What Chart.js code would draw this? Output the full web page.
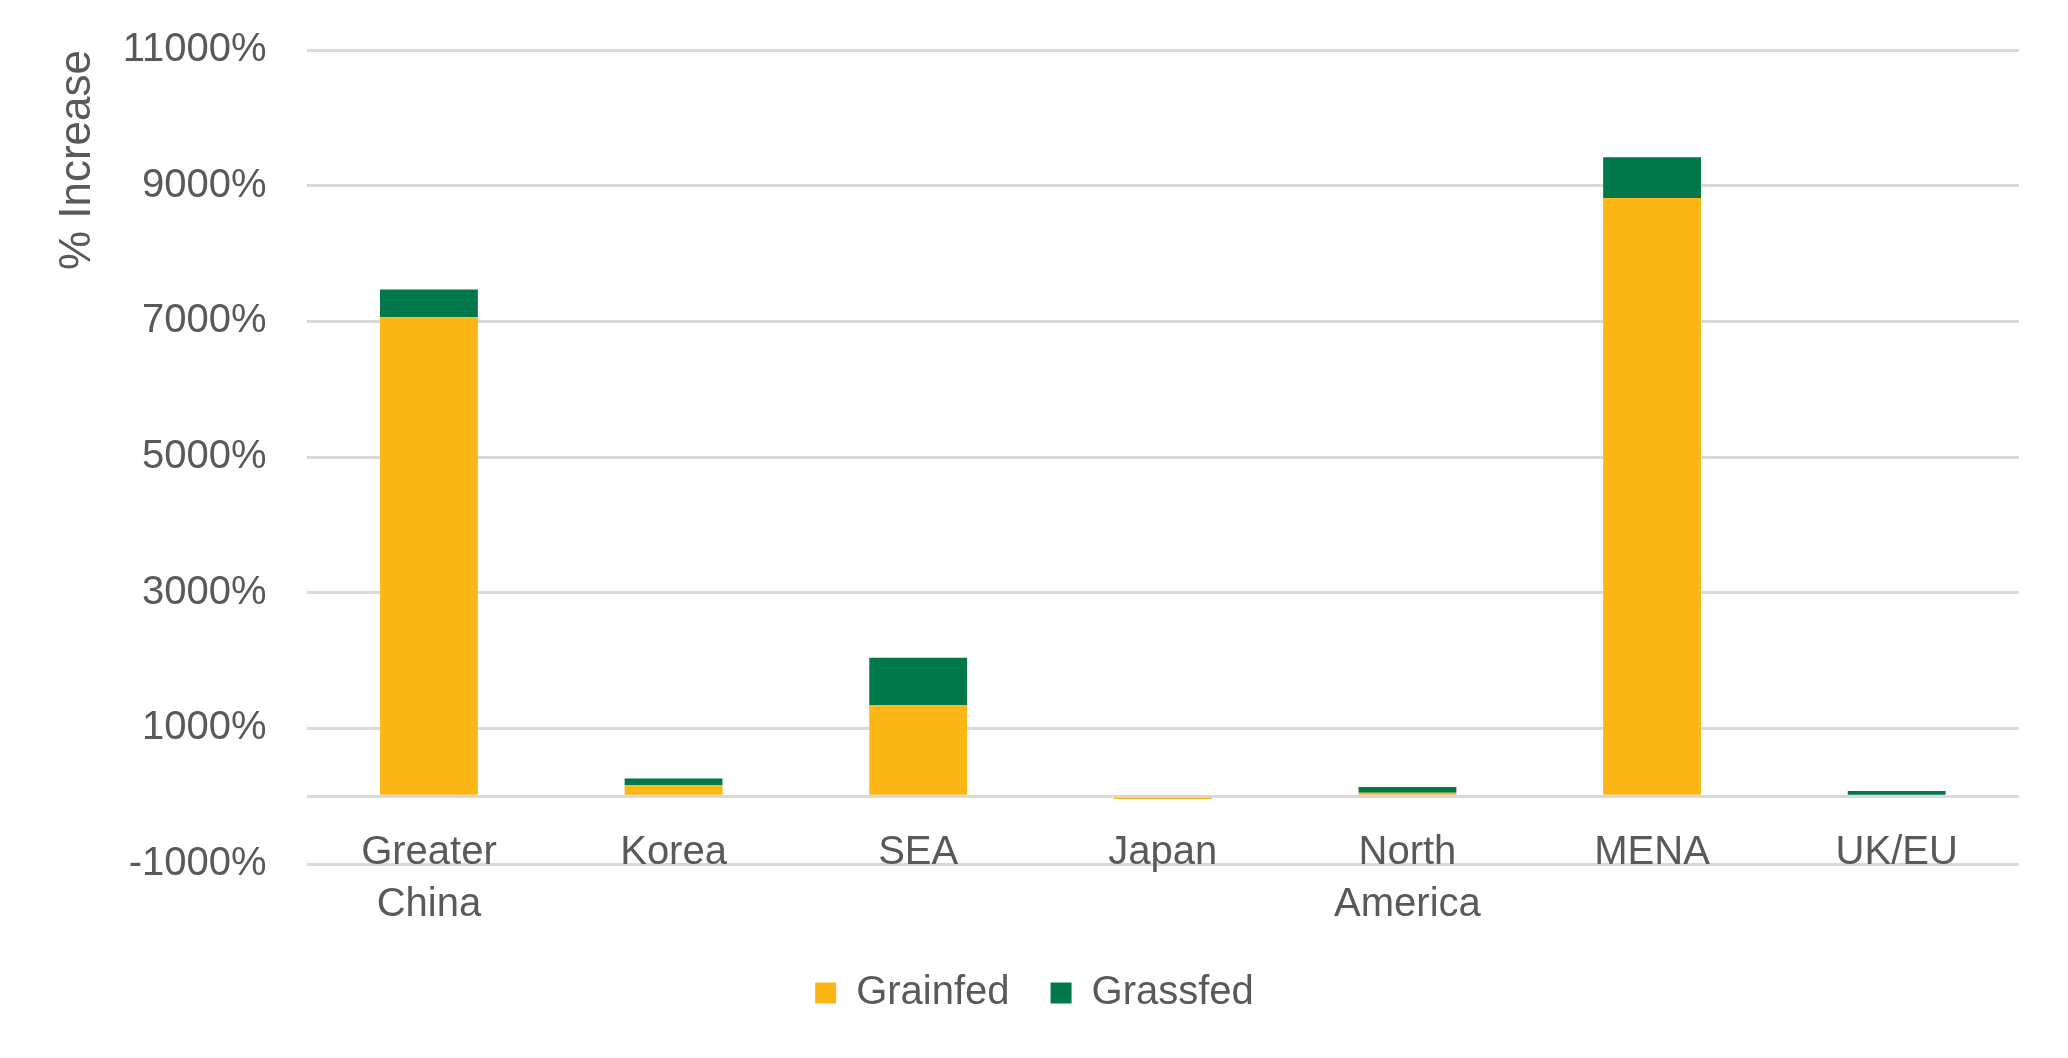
<!DOCTYPE html>
<html>
<head>
<meta charset="utf-8">
<title>% Increase by region</title>
<script src="https://cdn.jsdelivr.net/npm/chart.js@4.4.1/dist/chart.umd.min.js"></script>
<style>
  html, body { margin: 0; padding: 0; background: #ffffff; }
  #chart { display: block; }
</style>
</head>
<body>
<canvas id="chart" width="2068" height="1058"></canvas>
<script>
// data
const regions = [["Greater", "China"], "Korea", "SEA", "Japan", ["North", "America"], "MENA", "UK/EU"];
const grainfed = [7060, 160, 1340, -40, 50, 8820, 0];
const grassfed = [410, 100, 700, 0, 85, 600, 75];
const yTicks = [-1000, 0, 1000, 3000, 5000, 7000, 9000, 11000];

const textColor = "#595959";
const fontFamily = "'Liberation Sans', Arial, sans-serif";

let canvas = document.getElementById("chart");

var chart = new Chart(canvas, {
  type: "bar",
  data: {
    labels: regions,
    datasets: [
      {
        label: "Grainfed",
        data: grainfed,
        backgroundColor: "#FCB716",
        borderWidth: 0,
        barPercentage: 0.4,
        categoryPercentage: 1.0,
      },
      {
        label: "Grassfed",
        data: grassfed,
        backgroundColor: "#00784A",
        borderWidth: 0,
        barPercentage: 0.4,
        categoryPercentage: 1.0,
      },
    ],
  },
  options: {
    responsive: false,
    devicePixelRatio: 1,
    animation: false,
    layout: {
      padding: { top: 50, right: 49, bottom: 35, left: 50 },
    },
    plugins: {
      tooltip: { enabled: false },
      legend: {
        position: "bottom",
        // empty title only used to push the legend row down
        title: {
          display: true,
          text: "",
          font: { size: 10, lineHeight: 1 },
          padding: { top: 58, bottom: 0 },
        },
        labels: {
          color: textColor,
          font: { family: fontFamily, size: 40 },
          boxWidth: 21,
          boxHeight: 21,
          padding: 41,
        },
      },
    },
    scales: {
      x: {
        stacked: true,
        position: { y: 0 },
        grid: { display: false, drawTicks: false },
        border: { display: false },
        ticks: {
          color: textColor,
          font: { family: fontFamily, size: 40, lineHeight: 1.3 },
          padding: 31,
          maxRotation: 0,
        },
      },
      y: {
        stacked: true,
        min: -1000,
        max: 11000,
        afterBuildTicks: (scale) => {
          scale.ticks = yTicks.map((v) => ({ value: v }));
        },
        // invisible tick marks give the gap between labels and plot
        grid: { color: "#D9D9D9", lineWidth: 3, drawTicks: true, tickLength: 40, tickColor: "rgba(0,0,0,0)" },
        border: { display: false },
        ticks: {
          color: textColor,
          font: { family: fontFamily, size: 40 },
          padding: 0,
          callback: (value) => (value === 0 ? "" : value + "%"),
        },
        title: {
          display: true,
          text: "% Increase",
          align: "end",
          color: textColor,
          font: { family: fontFamily, size: 44 },
          padding: { top: 1, bottom: 19 },
        },
      },
    },
  },
});
</script>
</body>
</html>
